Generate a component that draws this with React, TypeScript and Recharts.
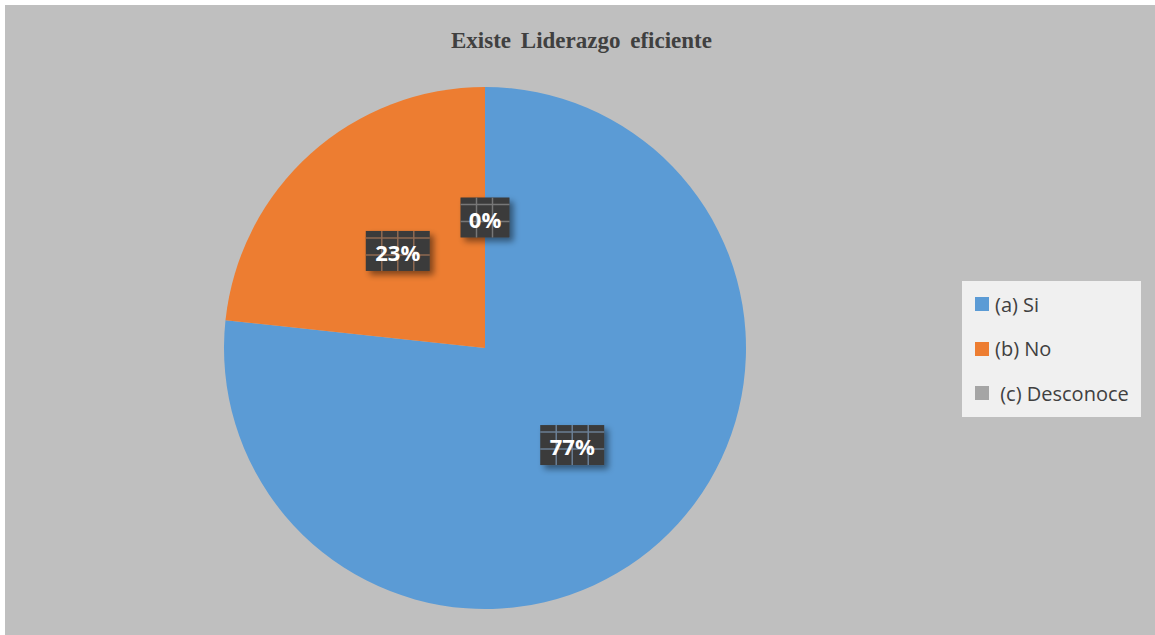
import { PieChart, Pie, Cell, Legend } from "recharts";

const categories = ["(a) Si", "(b) No", " (c) Desconoce"];
const values = [76.7, 23.3, 0];
const colors = ["#5b9bd5", "#ed7d31", "#a5a5a5"];
const lineColors = ["#6b7f95", "#8f6a52", "#777777"];

const data = categories.map((name, i) => ({ name, value: values[i] }));

const RADIAN = Math.PI / 180;

function renderLabel(props: any) {
  const { cx, cy, midAngle, outerRadius, percent, index } = props;
  const r = outerRadius * 0.5;
  const x = cx + r * Math.cos(-midAngle * RADIAN);
  const y = cy + r * Math.sin(-midAngle * RADIAN);
  const text = `${Math.round(percent * 100)}%`;
  const w = 15 * text.length + 19;
  const h = 40;
  const left = x - w / 2;
  const top = y - h / 2;
  const lines = [];
  for (let lx = left + 16; lx < left + w - 2; lx += 16) {
    lines.push(<line key={"v" + lx} x1={lx} y1={top} x2={lx} y2={top + h} stroke={lineColors[index]} strokeWidth={1.5} />);
  }
  [top + 7, top + 24].forEach((ly) =>
    lines.push(<line key={"h" + ly} x1={left} y1={ly} x2={left + w} y2={ly} stroke={lineColors[index]} strokeWidth={1.5} />)
  );
  const fid = `lblShadow${index}`;
  return (
    <g key={`lbl-${index}`}>
      <defs>
        <filter id={fid} x="-30%" y="-30%" width="170%" height="170%">
          <feDropShadow dx={4} dy={4} stdDeviation={3} floodColor="#000" floodOpacity={0.45} />
        </filter>
      </defs>
      <rect x={left} y={top} width={w} height={h} fill="#3b3b3b" filter={`url(#${fid})`} />
      {lines}
      <text
        x={x}
        y={y + 1}
        textAnchor="middle"
        dominantBaseline="central"
        fill="#ffffff"
        fontFamily="'Open Sans', sans-serif"
        fontWeight={700}
        fontSize={22}
      >
        {text}
      </text>
    </g>
  );
}

function LegendBox() {
  return (
    <div
      style={{
        width: 179,
        height: 136,
        background: "#f0f0f0",
        boxSizing: "border-box",
        paddingTop: 1,
      }}
    >
      {categories.map((c, i) => (
        <div key={c} style={{ display: "flex", alignItems: "center", height: 44.5, paddingLeft: 13 }}>
          <div style={{ width: 14, height: 14, background: colors[i], marginRight: 6 }} />
          <span
            style={{
              fontFamily: "'Open Sans', sans-serif",
              fontSize: 20,
              color: "#404040",
              whiteSpace: "pre",
            }}
          >
            {c}
          </span>
        </div>
      ))}
    </div>
  );
}

export default function App() {
  return (
    <div style={{ position: "absolute", left: 0, top: 0, width: 1155, height: 635, background: "#ffffff" }}>
      <div style={{ position: "absolute", left: 5, top: 5, width: 1150, height: 630, background: "#bfbfbf" }} />
      <div
        style={{
          position: "absolute",
          left: 0,
          top: 28,
          width: 1163,
          textAlign: "center",
          fontFamily: "'Liberation Serif', 'Times New Roman', serif",
          fontWeight: 700,
          fontSize: 23,
          color: "#404040",
          wordSpacing: 4,
        }}
      >
        Existe Liderazgo eficiente
      </div>
      <div style={{ position: "absolute", left: 0, top: 0 }}>
        <PieChart width={1155} height={635} margin={{ top: 0, right: 0, bottom: 0, left: 0 }}>
          <Pie
            data={data}
            dataKey="value"
            nameKey="name"
            cx={485}
            cy={348}
            outerRadius={261}
            startAngle={90}
            endAngle={-270}
            stroke="none"
            label={renderLabel}
            labelLine={false}
            isAnimationActive={false}
          >
            {data.map((d, i) => (
              <Cell key={d.name} fill={colors[i]} />
            ))}
          </Pie>
          <Legend
            content={() => <LegendBox />}
            wrapperStyle={{ left: 962, top: 281, width: 179, height: 136 }}
          />
        </PieChart>
      </div>
    </div>
  );
}
